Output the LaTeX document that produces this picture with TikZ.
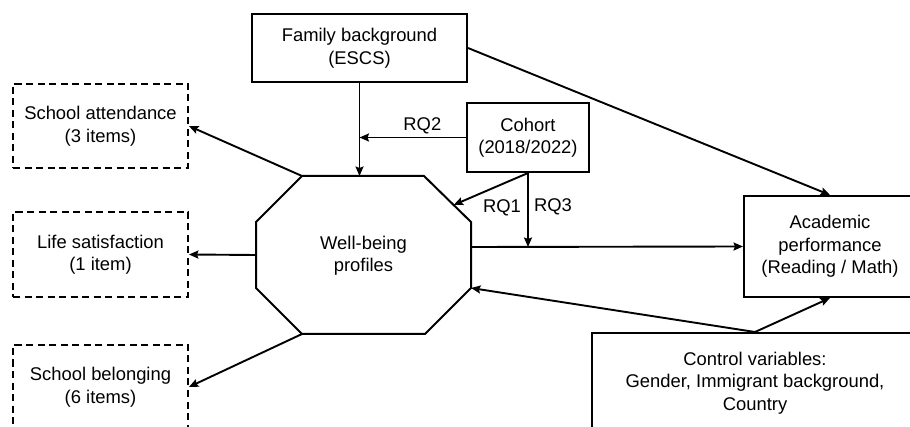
\documentclass[tikz,border=0pt]{standalone}
\usepackage{fontspec}
\setmainfont{Liberation Sans}
\usetikzlibrary{arrows.meta,calc}
\begin{document}
\begin{tikzpicture}[x=1pt,y=-1pt,
  every node/.style={font=\fontsize{18.4}{22.5}\selectfont, align=center, inner sep=0pt},
  solidbox/.style={draw, line width=2pt, rectangle, minimum width=#1},
  dashbox/.style={draw, line width=1.8pt, rectangle, dash pattern=on 7pt off 4.5pt, minimum width=175pt, minimum height=84pt},
  conn/.style={line width=1.9pt, -{Stealth[length=9.5pt,width=8pt,inset=1.5pt]}},
  lab/.style={font=\fontsize{18.4}{22.5}\selectfont}
]
\useasboundingbox (0,0) rectangle (910,427);
\clip (0,0) rectangle (910,427);

% boxes
\node[solidbox=215pt, minimum height=68pt] (fam) at (359.5,48) {Family background\\(ESCS)};
\node[solidbox=122pt, minimum height=69pt] (coh) at (528,137.5) {Cohort\\(2018/2022)};
\node[solidbox=172pt, minimum height=101pt] (acad) at (830,246.5) {Academic\\performance\\(Reading / Math)};
\node[solidbox=326pt, minimum height=100pt] (ctrl) at (755,383) {Control variables:\\Gender, Immigrant background,\\Country};

\node[dashbox] (att) at (100.5,126) {School attendance\\(3 items)};
\node[dashbox, minimum height=85pt] (life) at (100.5,254.5) {Life satisfaction\\(1 item)};
\node[dashbox] (bel) at (100.5,387) {School belonging\\(6 items)};

% octagon
\coordinate (o1) at (302,176);
\coordinate (o2) at (424,176);
\coordinate (o3) at (471,222);
\coordinate (o4) at (471,288);
\coordinate (o5) at (425,334);
\coordinate (o6) at (302,334);
\coordinate (o7) at (256,288);
\coordinate (o8) at (256,222);
\draw[line width=2pt, line join=miter] (o1) -- (o2) -- (o3) -- (o4) -- (o5) -- (o6) -- (o7) -- (o8) -- cycle;
\node (wb) at (363.5,255.5) {Well-being\\profiles};
\coordinate (oleft) at ($(o7)!0.5!(o8)$);
\coordinate (orq1) at ($(o2)!0.63!(o3)$);
\coordinate (oright) at (471,247);

% connectors
\draw[conn] (fam.south) -- (fam.south |- o1);
\coordinate (rq2end) at (coh.west -| fam.south);
\draw[conn] (coh.west) -- (rq2end) node[pos=0.41, above=3pt, lab] (rq2) {RQ2};
\draw[conn] (coh.south) -- (orq1);
\node[lab] (rq1) at (502,208) {RQ1};
\coordinate (rq3end) at (coh.south |- oright);
\draw[conn] (coh.south) -- (rq3end);
\node[lab] (rq3) at (553,207) {RQ3};
\draw[conn] (oright) -- (acad.west);
\draw[conn] (fam.east) -- (acad.north);
\draw[conn] (ctrl.north) -- (acad.south);
\draw[conn] (ctrl.north) -- (o4);
\draw[conn] (o1) -- (att.east);
\draw[conn] (oleft) -- (life.east);
\draw[conn] (o6) -- (bel.east);
\end{tikzpicture}
\end{document}
